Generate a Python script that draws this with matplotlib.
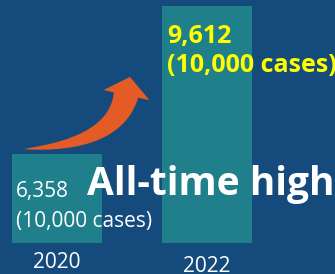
#!/usr/bin/env python3
"""Two-bar 'all-time high' comparison card."""

import matplotlib

matplotlib.use("Agg")
import matplotlib.pyplot as plt
import numpy as np
from matplotlib.patches import Polygon

YEARS = ["2020", "2022"]
VALUES = [6358, 9612]
UNIT = "(10,000 cases)"
HEADLINE = "All-time high"

BG = "#154b7c"
BAR = "#1f7f8b"
ORANGE = "#e55b26"
YELLOW = "#ffff00"
W, H = 335, 274

plt.rcParams["font.family"] = ["Open Sans", "DejaVu Sans"]

fig = plt.figure(figsize=(W / 100, H / 100), dpi=100, facecolor=BG)
ax = fig.add_axes([0, 0, 1, 1])
ax.set_facecolor(BG)
ax.axis("off")

# value axis does not start at zero in the original
base = 4380
x = np.arange(len(VALUES))
ax.bar(x, [v - base for v in VALUES], bottom=base, width=0.6, color=BAR, zorder=2)
ax.set_xlim(-0.38, 1.853)
ax.set_ylim(3708, 9744)


def px(xp, yp):
    return xp / W, 1 - yp / H


# year labels, centred under each bar
for i, (yr, yp) in enumerate(zip(YEARS, [263, 266])):
    fx, _ = ax.transAxes.inverted().transform(ax.transData.transform((x[i], base)))
    ax.text(fx, px(0, yp)[1], yr, transform=ax.transAxes, ha="center",
            va="center", color="white", fontsize=15)

# value labels
ax.text(*px(16, 191.5), f"{VALUES[0]:,}", transform=ax.transAxes, ha="left",
        va="center", color="white", fontsize=15, zorder=4)
ax.text(*px(16, 222), UNIT, transform=ax.transAxes, ha="left",
        va="center", color="white", fontsize=15, zorder=4)
ax.text(*px(167, 36), f"{VALUES[1]:,}", transform=ax.transAxes, ha="left",
        va="center", color=YELLOW, fontsize=18, fontweight="bold", zorder=4)
ax.text(*px(167, 65), UNIT, transform=ax.transAxes, ha="left",
        va="center", color=YELLOW, fontsize=18, fontweight="bold", zorder=4)

# headline
ax.text(*px(87, 195), HEADLINE, transform=ax.transAxes, ha="left",
        va="baseline", color="white", fontsize=28, fontweight="bold", zorder=5)

# curved tapered arrow, built in pixel space
p0, p1, p2 = np.array([24, 149.0]), np.array([115, 145.0]), np.array([126, 95.0])
t = np.linspace(0, 1, 40)[:, None]
c = (1 - t) ** 2 * p0 + 2 * (1 - t) * t * p1 + t ** 2 * p2
d = 2 * (1 - t) * (p1 - p0) + 2 * t * (p2 - p1)
d /= np.linalg.norm(d, axis=1, keepdims=True)
n = np.column_stack([-d[:, 1], d[:, 0]])
half = 12.5 * t[:, 0] ** 0.8
left = c + n * half[:, None]
right = c - n * half[:, None]
tip_dir = d[-1]
tip_n = n[-1]
head = [p2 + tip_n * 24, p2 + tip_dir * 18.5, p2 - tip_n * 23]
pts = np.vstack([left, head, right[::-1]])
fig_pts = [px(*p) for p in pts]
fig.patches.append(Polygon(fig_pts, closed=True, transform=fig.transFigure,
                           facecolor=ORANGE, edgecolor="none", zorder=3))

fig.savefig("out.png", dpi=100, facecolor=BG)
